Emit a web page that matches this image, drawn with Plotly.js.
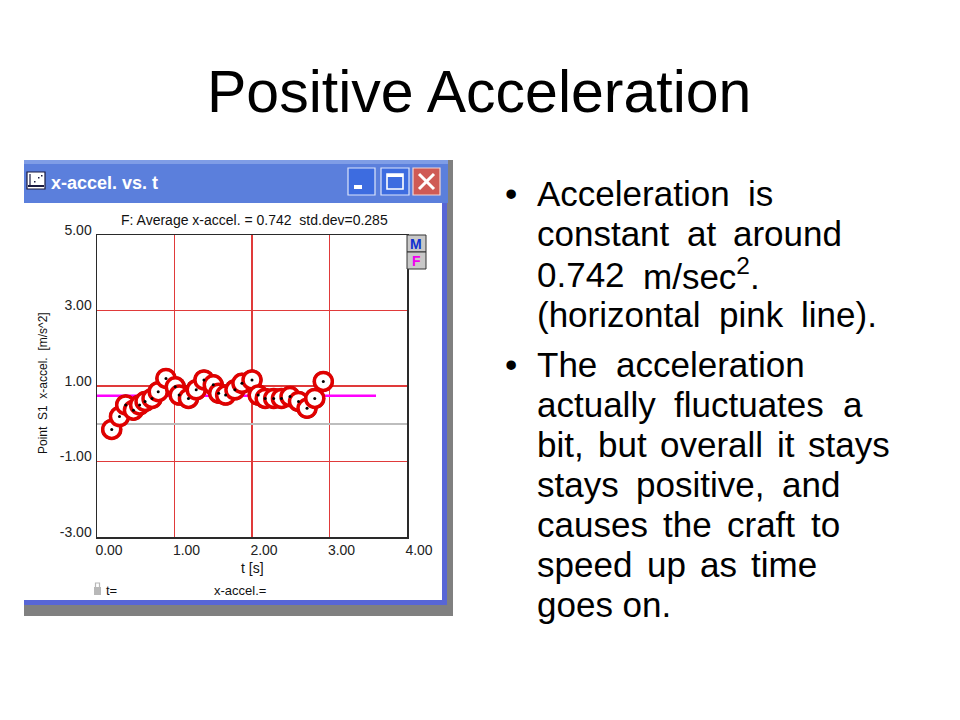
<!DOCTYPE html>
<html>
<head>
<meta charset="utf-8">
<script src="https://cdn.plot.ly/plotly-3.0.1.min.js"></script>
<style>html,body{margin:0;padding:0;background:#fff;}#chart{width:960px;height:720px;}</style>
</head>
<body>
<div id="chart"></div>
<script>
// ---- data ----
const timeS = [0.19,0.29,0.37,0.47,0.55,0.62,0.71,0.79,0.89,1.01,1.06,1.18,1.28,1.38,1.50,1.57,1.66,1.78,1.87,2.00,2.08,2.17,2.28,2.38,2.49,2.60,2.71,2.81,2.92];
const xAccel = [-0.15,0.19,0.50,0.36,0.50,0.59,0.67,0.85,1.20,0.98,0.76,0.67,0.90,1.16,1.03,0.81,0.76,0.90,1.07,1.16,0.76,0.67,0.67,0.67,0.72,0.59,0.41,0.67,1.12];
const avgAccel = 0.742;
const avgLineT = [0, 3.6];
const xTickVals = [0,1,2,3,4];
const xTickText = ['0.00','1.00','2.00','3.00','4.00'];
const yTickVals = [-3,-1,1,3,5];
const yTickText = ['-3.00','-1.00','1.00','3.00','5.00'];
const slideTitle = 'Positive Acceleration';
const windowTitle = 'x-accel. vs. t';
const fitText = 'F: Average x-accel. = 0.742  std.dev=0.285';
const bullet1 = ['Acceleration is', 'constant at around', '0.742 m/sec<sup>2</sup>.', '(horizontal pink line).'];
const bullet2 = ['The acceleration', 'actually fluctuates a', 'bit, but overall it stays', 'stays positive, and', 'causes the craft to', 'speed up as time', 'goes on.'];

// ---- layout helpers (pixel -> paper) ----
const W = 960, H = 720;
const FONT = 'Liberation Sans, Arial, sans-serif';
const px = x => x / W;
const py = y => 1 - y / H;
function rect(x0, y0, x1, y1, fill, line, lw, layer) {
  return {type:'rect', xref:'paper', yref:'paper', x0:px(x0), x1:px(x1), y0:py(y1), y1:py(y0),
    fillcolor:fill, line:{color:line||'rgba(0,0,0,0)', width:lw||0}, layer:layer||'below'};
}
function seg(x0, y0, x1, y1, color, w, layer) {
  return {type:'line', xref:'paper', yref:'paper', x0:px(x0), x1:px(x1), y0:py(y0), y1:py(y1),
    line:{color:color, width:w}, layer:layer||'above'};
}
function txt(x, y, text, size, color, opts) {
  return Object.assign({xref:'paper', yref:'paper', x:px(x), y:py(y), text:text, showarrow:false,
    font:{family:FONT, size:size, color:color||'#000'},
    xanchor:'left', yanchor:'middle'}, opts||{});
}

const shapes = [
  rect(440, 160, 453, 616, '#808080'),
  rect(24, 600, 453, 616, '#808080'),
  rect(24, 160, 448, 203, '#5b7fdc'),
  rect(24, 160, 448, 164, '#7f9de6'),
  rect(24, 203, 447, 605, '#5866d6'),
  rect(24, 203, 442, 600, '#ffffff'),
  // window icon (little chart)
  rect(27, 172, 45, 189, '#ffffff', '#1a1a40', 1.2),
  seg(30, 174, 30, 187, '#1a1a40', 1.2),
  seg(28, 186, 44, 186, '#1a1a40', 2),
  rect(34, 181, 35.5, 182.5, '#1a1a40'),
  rect(38, 177, 39.5, 178.5, '#1a1a40'),
  rect(41, 175, 42.5, 176.5, '#1a1a40'),
  // caption buttons
  rect(348, 168, 375, 195, '#3d6ce0', '#dce4fb', 1.2),
  rect(354, 185, 362, 189, '#ffffff'),
  rect(381, 168, 409, 195, '#3d6ce0', '#dce4fb', 1.2),
  rect(387, 174, 403, 189, 'rgba(0,0,0,0)', '#ffffff', 1.6),
  rect(387, 174, 403, 177, '#ffffff'),
  rect(413, 168, 440, 195, '#cf5a55', '#f2d6d4', 1.2),
  seg(419, 174, 434, 189, '#ffffff', 3),
  seg(434, 174, 419, 189, '#ffffff', 3),
  // M / F buttons
  rect(407, 235, 426, 252, '#c8c8c8', '#333333', 1, 'above'),
  rect(407, 252, 426, 269, '#c8c8c8', '#333333', 1, 'above'),
  // lock icon
  rect(94, 587, 101, 595, '#b8b8b8'),
  rect(95.5, 583, 99.5, 588, 'rgba(0,0,0,0)', '#b8b8b8', 1.2),
];

const annotations = [
  txt(479, 92, slideTitle, 59, '#000', {xanchor:'center'}),
  txt(49, 183, '<b>' + windowTitle + '</b>', 18, '#ffffff'),
  txt(254, 220, fitText, 14, '#111', {xanchor:'center'}),
  txt(416, 244, '<b>M</b>', 14, '#1030d0', {xanchor:'center'}),
  txt(416, 261, '<b>F</b>', 14, '#f000f0', {xanchor:'center'}),
  txt(252, 568, 't [s]', 14, '#111', {xanchor:'center'}),
  txt(43, 383, 'Point  S1  x-accel.  [m/s^2]', 12, '#111', {xanchor:'center', textangle:-90}),
  txt(104, 590, 't=', 13, '#111'),
  txt(240, 590, 'x-accel.=', 13, '#111', {xanchor:'center'}),
];

// ---- bullet text, mildly justified like the slide ----
const BSIZE = 35, LEFT = 535, GAP = 40, MAXEXTRA = 9;
const canvas = document.createElement('canvas');
const ctx = canvas.getContext('2d');
ctx.font = BSIZE + 'px "Liberation Sans"';
const plain = s => s.replace(/<[^>]+>/g, '');
const spaceW = ctx.measureText(' ').width;
function placeLine(line, y, right) {
  const words = line.split(' ');
  if (right == null || words.length < 2) { annotations.push(txt(LEFT, y, line, BSIZE)); return; }
  const widths = words.map(w => ctx.measureText(plain(w)).width);
  const total = widths.reduce((a, b) => a + b, 0);
  let gap = (right - LEFT - total) / (words.length - 1);
  gap = Math.max(spaceW, Math.min(gap, spaceW + MAXEXTRA));
  let x = LEFT;
  words.forEach((w, i) => {
    annotations.push(txt(x, y, w, BSIZE));
    x += widths[i] + gap;
  });
}
const rightEdges1 = [773, 840, 768, 875];
const rightEdges2 = [805, 875, 888, 838, 838, 815, null];
annotations.push(txt(503, 194, '•', BSIZE, '#000'));
bullet1.forEach((t, i) => placeLine(t, 194 + i * GAP, rightEdges1[i]));
annotations.push(txt(503, 364, '•', BSIZE, '#000'));
bullet2.forEach((t, i) => placeLine(t, 364 + i * GAP, rightEdges2[i]));

const traces = [
  {x: avgLineT, y: [avgAccel, avgAccel], mode:'lines', line:{color:'#ff00ff', width:2.5}, hoverinfo:'skip'},
  {x: timeS, y: xAccel, mode:'markers', marker:{symbol:'circle', size:21, color:'#111'}, hoverinfo:'skip'},
  {x: timeS, y: xAccel, mode:'markers', marker:{symbol:'circle', size:18, color:'#ffffff', line:{color:'#e00000', width:3.5}}, hoverinfo:'skip'},
  {x: timeS, y: xAccel, mode:'markers', marker:{symbol:'circle', size:3, color:'#000'}, hoverinfo:'skip'},
];

const axisFont = {family:FONT, size:14, color:'#222'};
const layout = {
  width: W, height: H,
  margin: {l:0, r:0, t:0, b:0},
  paper_bgcolor: '#ffffff',
  plot_bgcolor: 'rgba(0,0,0,0)',
  showlegend: false,
  xaxis: {
    domain: [px(97), px(407)], range: [0, 4], fixedrange: true,
    tickmode: 'array', tickvals: xTickVals, ticktext: xTickText,
    showgrid: true, gridcolor: '#e03a3a', gridwidth: 1.2,
    zeroline: false, showline: true, mirror: true, linecolor: '#2a2a2a', linewidth: 1.5,
    ticks: '', tickfont: axisFont, ticklabelshift: 12, ticklabelstandoff: 0,
  },
  yaxis: {
    domain: [py(537), py(235)], range: [-3, 5], fixedrange: true,
    tickmode: 'array', tickvals: yTickVals, ticktext: yTickText,
    showgrid: true, gridcolor: '#e03a3a', gridwidth: 1.2,
    zeroline: true, zerolinecolor: '#bdbdbd', zerolinewidth: 2,
    showline: true, mirror: true, linecolor: '#2a2a2a', linewidth: 1.5,
    ticks: '', tickfont: axisFont, ticklabelshift: -5, ticklabelstandoff: 1,
  },
  shapes: shapes,
  annotations: annotations,
};

Plotly.newPlot('chart', traces, layout, {displayModeBar:false, staticPlot:true});
</script>
</body>
</html>
